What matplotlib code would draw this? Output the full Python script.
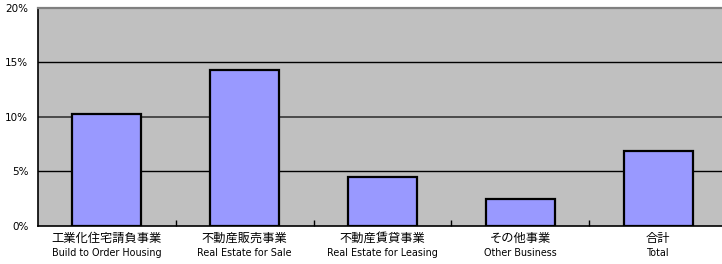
import matplotlib
matplotlib.use("Agg")
import matplotlib.pyplot as plt
from matplotlib.ticker import FixedLocator

categories_ja = ["工業化住宅請負事業", "不動産販売事業", "不動産賃貸事業", "その他事業", "合計"]
categories_en = ["Build to Order Housing", "Real Estate for Sale", "Real Estate for Leasing", "Other Business", "Total"]
values = [10.25, 14.3, 4.5, 2.45, 6.85]
yticks = [0, 5, 10, 15, 20]
ytick_labels = ["0%", "5%", "10%", "15%", "20%"]

W, H = 722, 264
fig = plt.figure(figsize=(W / 100, H / 100), dpi=100)
left, right, top, bottom = 38, 727, 7.5, 226
ax = fig.add_axes([left / W, (H - bottom) / H, (right - left) / W, (bottom - top) / H])
ax.set_facecolor("#C0C0C0")

x = list(range(len(values)))
ax.bar(x, values, width=0.5, color="#9999FF", edgecolor="black", linewidth=1.6, zorder=3)

ax.set_xlim(-0.5, len(values) - 0.5)
ax.set_ylim(0, 20)
for v in yticks[1:-1]:
    if v == 10:
        ax.axhline(v, color="#4a4a4a", linewidth=1.4, zorder=1)
    else:
        ax.axhline(v, color="black", linewidth=1.0, zorder=1)

ax.set_yticks(yticks)
ax.set_yticklabels(ytick_labels, fontsize=7.5, family=["DejaVu Sans"])
ax.tick_params(axis="y", length=0, pad=7)

ax.set_xticks(x)
ax.set_xticklabels([""] * len(x))
ax.tick_params(axis="x", which="major", length=0)
ax.xaxis.set_minor_locator(FixedLocator([i + 0.5 for i in x]))
ax.tick_params(axis="x", which="minor", direction="in", length=4, width=1, color="black")

for s in ["left", "bottom"]:
    ax.spines[s].set_color("black")
    ax.spines[s].set_linewidth(1.2)
ax.spines["top"].set_color("#808080")
ax.spines["top"].set_linewidth(1.6)
ax.spines["right"].set_visible(False)

trans = ax.get_xaxis_transform()
for i, (ja, en) in enumerate(zip(categories_ja, categories_en)):
    ax.text(i, -0.055, ja, transform=trans, ha="center", va="center", fontsize=8.8,
            family=["Noto Sans CJK JP", "DejaVu Sans"])
    ax.text(i, -0.125, en, transform=trans, ha="center", va="center", fontsize=6.9,
            family=["DejaVu Sans"])

fig.savefig("out.png", dpi=100)
